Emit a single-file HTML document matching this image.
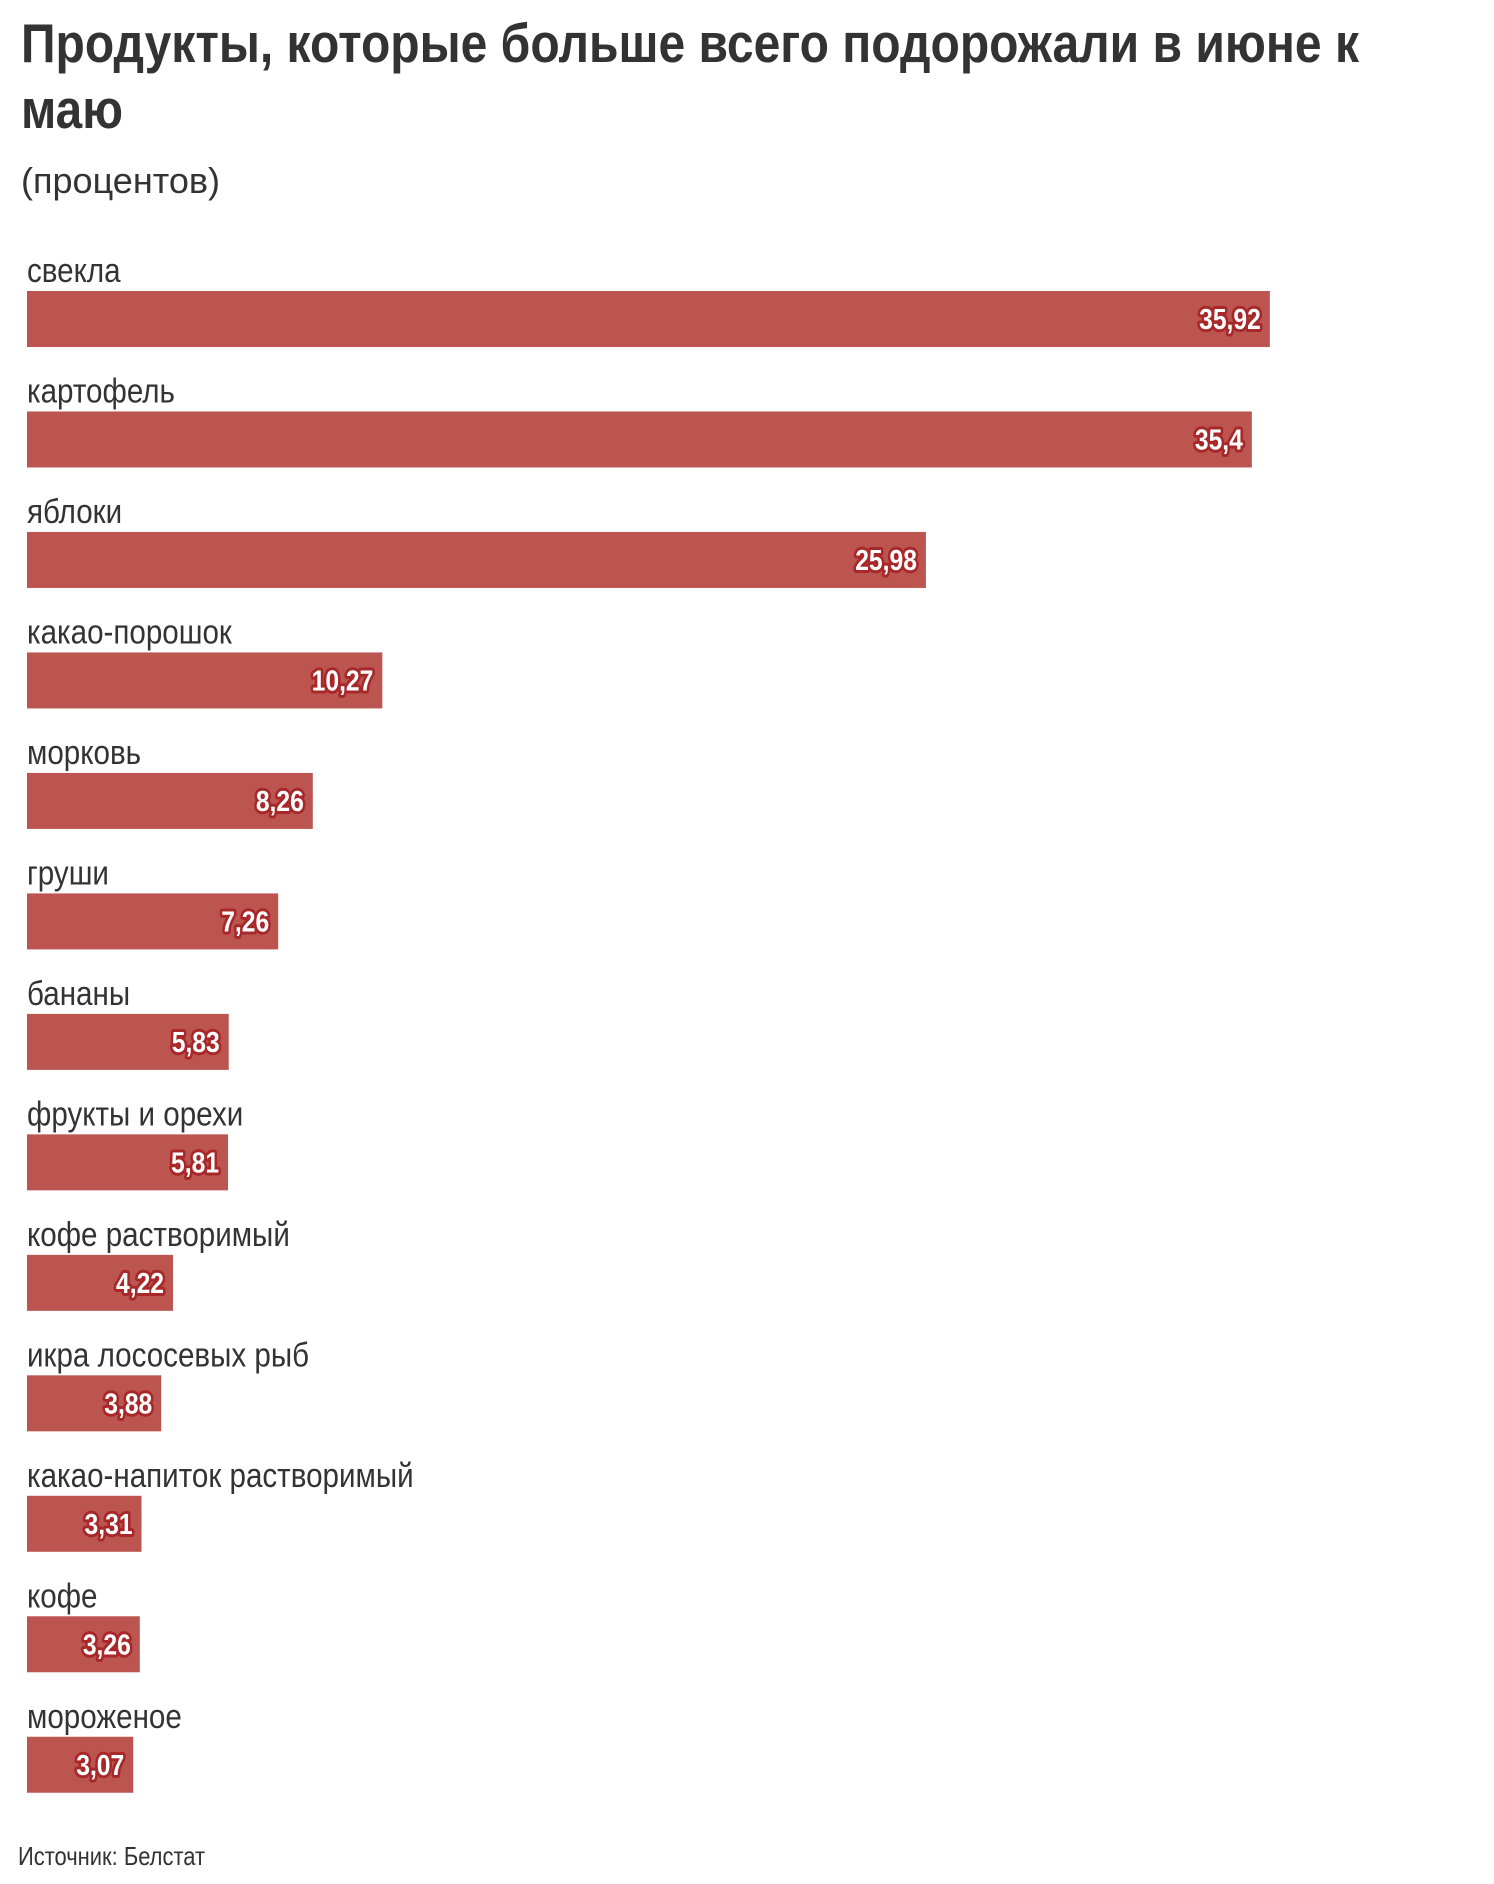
<!DOCTYPE html>
<html><head><meta charset="utf-8"><style>
html,body{margin:0;padding:0;background:#fff;}
svg{display:block;font-family:"Liberation Sans","Noto Sans CJK SC",sans-serif;}
.lbl{font-size:34px;fill:#333;}
.val{font-size:29px;font-weight:bold;fill:#fff;stroke:#a8282a;stroke-width:6px;paint-order:stroke;stroke-linejoin:round;}
</style></head><body>
<svg id="chart" width="1494" height="1884" viewBox="0 0 1494 1884" xmlns="http://www.w3.org/2000/svg">
<text x="21" y="62" font-size="55" font-weight="bold" fill="#333" textLength="1338" lengthAdjust="spacingAndGlyphs">Продукты, которые больше всего подорожали в июне к</text>
<text x="21" y="128" font-size="55" font-weight="bold" fill="#333" textLength="102" lengthAdjust="spacingAndGlyphs">маю</text>
<text x="21" y="193" font-size="36" fill="#333" textLength="199" lengthAdjust="spacingAndGlyphs">(процентов)</text>
<g id="bars"></g>
<text x="18" y="1865" font-size="26" fill="#333" textLength="187" lengthAdjust="spacingAndGlyphs">Источник: Белстат</text>
</svg>
<script>
const categories = ["свекла","картофель","яблоки","какао-порошок","морковь","груши","бананы","фрукты и орехи","кофе растворимый","икра лососевых рыб","какао-напиток растворимый","кофе","мороженое"];
const values = [35.92,35.4,25.98,10.27,8.26,7.26,5.83,5.81,4.22,3.88,3.31,3.26,3.07];
const valueLabels = ["35,92","35,4","25,98","10,27","8,26","7,26","5,83","5,81","4,22","3,88","3,31","3,26","3,07"];

const NS = "http://www.w3.org/2000/svg";
const x0 = 27, pxPerUnit = 34.6;
function xScale(v){ return x0 + v * pxPerUnit; }
function yScale(i){ return 291 + i * 100.4 * 1.2; }
const g = document.getElementById("bars");
categories.forEach((c, i) => {
  const y = yScale(i);
  const lbl = document.createElementNS(NS, "text");
  
  
  lbl.setAttribute("class", "lbl");
  lbl.setAttribute("transform", "translate(" + x0 + "," + (y - 9) + ") scale(0.87,1)");
  lbl.textContent = c;
  g.appendChild(lbl);
  const r = document.createElementNS(NS, "rect");
  
  
  r.setAttribute("x", x0);
  r.setAttribute("y", y);
  r.setAttribute("width", xScale(values[i]) - x0);
  r.setAttribute("height", 56);
  r.setAttribute("fill", "#bc5550");
  g.appendChild(r);
  const t = document.createElementNS(NS, "text");
  
  
  t.setAttribute("class", "val");
  t.setAttribute("text-anchor", "end");
  t.setAttribute("transform", "translate(" + (xScale(values[i]) - 9) + "," + (y + 38) + ") scale(0.85,1)");
  t.textContent = valueLabels[i];
  g.appendChild(t);
});
</script>
</body></html>
